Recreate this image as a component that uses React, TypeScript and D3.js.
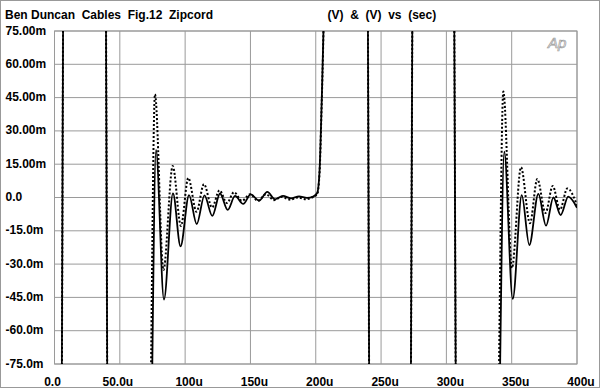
import React from "react";
import * as d3 from "d3";

// sweep times (microseconds) and levels (millivolts)
// +/-150 mV = trace is off-scale (clipped)
const solidTime = [
  0, 4.9, 7.3, 38.7, 41.1, 72.5, 77.7, 83.8, 90.7, 96.5, 103, 108.9, 114.8,
  120.8, 126.7, 132.6, 138.2, 144.5, 150.2, 156.6, 162.9, 168.8, 174.9, 181,
  187.2, 193.3, 198, 201.1, 202.9, 204.4, 205.9, 207.8, 239.2, 241.6, 272,
  274.8, 305.2, 308, 338.5, 344.3, 350.8, 357.7, 363.5, 370.4, 376.3, 381.9,
  387.5, 393.3, 400,
];
const solidLevel = [
  -150, -150, 150, 150, -150, -150, 21.4, -46, 1.9, -22, 1.1, -12, 1, -8.3,
  1.8, -5.6, 0.7, -2.9, 1.4, -1.4, 2.5, -0.8, 0.7, -0.4, 0.5, -0.2, 0.4, 2,
  12, 40, 75, 150, 150, -150, -150, 150, 150, -150, -150, 20.6, -45.7, 1.1,
  -21.4, 1.6, -12.7, 0, -7.9, 0.4, -4.6,
];

const dottedTime = [
  0, 4.9, 7.3, 38.7, 41.1, 71.8, 76.9, 83.4, 90.5, 96.8, 102.4, 108.7, 114.4,
  120.6, 126.3, 132, 137.4, 143.5, 149.7, 155.8, 161.9, 168, 174.2, 180.3,
  186.4, 192.5, 197.1, 201.1, 202.9, 204.4, 205.9, 207.8, 239.2, 241.6, 272,
  274.8, 305.2, 308, 338, 343.6, 350.2, 357.1, 364, 369.6, 375.9, 381.4, 387,
  392.6, 400,
];
const dottedLevel = [
  -150, -150, 150, 150, -150, -150, 46.5, -32.7, 14.2, -12.8, 8.8, -6.4, 6,
  -4.5, 3.2, -2.5, 2.4, -1.5, 1.5, -1.5, 1.5, -1.2, 0.3, -1, 0, -0.8, 0, 1.5,
  11, 39, 75, 150, 150, -150, -150, 150, 150, -150, -150, 47.7, -31.8, 13.6,
  -11.6, 8.3, -7, 5.2, -5.5, 4.1, -3.5,
];

const xTicks = [0, 50, 100, 150, 200, 250, 300, 350, 400];
const xTickLabels = ["0.0", "50.0u", "100u", "150u", "200u", "250u", "300u", "350u", "400u"];
const yTicks = [75, 60, 45, 30, 15, 0, -15, -30, -45, -60, -75];
const yTickLabels = [
  "75.00m", "60.00m", "45.00m", "30.00m", "15.00m", "0.0",
  "-15.0m", "-30.0m", "-45.0m", "-60.0m", "-75.0m",
];

const title = "Ben Duncan  Cables  Fig.12  Zipcord";
const units = "(V)  &  (V)  vs  (sec)";

export default function App() {
  const width = 600;
  const height = 388;
  const left = 54.5, right = 577, top = 31, bottom = 364;

  const x = d3.scaleLinear().domain([0, 400]).range([left, right]);
  const y = d3.scaleLinear().domain([-75, 75]).range([bottom, top]);

  const line = d3
    .line<[number, number]>()
    .x((d) => x(d[0]))
    .y((d) => y(d[1]))
    .curve(d3.curveMonotoneX);

  const solidPath = line(solidTime.map((t, i) => [t, solidLevel[i]]));
  const dottedPath = line(dottedTime.map((t, i) => [t, dottedLevel[i]]));

  const font = "'Liberation Sans', Arial, Helvetica, sans-serif";
  const grid = "#9a9a9a";

  return (
    <svg
      width={width}
      height={height}
      style={{ position: "absolute", left: 0, top: 0, background: "#fff" }}
      fontFamily={font}
    >
      <rect x={0.5} y={0.5} width={width - 1} height={height - 1} fill="#fff" stroke="#999" />
      <defs>
        <clipPath id="plot">
          <rect x={left} y={top} width={right - left} height={bottom - top} />
        </clipPath>
      </defs>

      {/* grid */}
      {xTicks.map((t) => (
        <line key={"gx" + t} x1={x(t)} x2={x(t)} y1={top} y2={bottom} stroke={grid} strokeWidth={1} />
      ))}
      {yTicks.map((v) => (
        <line key={"gy" + v} x1={left} x2={right} y1={y(v)} y2={y(v)} stroke={grid} strokeWidth={1} />
      ))}
      <rect x={left} y={top} width={right - left} height={bottom - top} fill="none" stroke={grid} />

      <text x={548} y={48} fontSize={15} fontStyle="italic" fill="#fff" stroke="#999" strokeWidth={0.7}>
        Ap
      </text>

      <g clipPath="url(#plot)" fill="none">
        <path d={solidPath ?? ""} stroke="#000" strokeWidth={1.8} />
        <path d={dottedPath ?? ""} stroke="#000" strokeWidth={2} strokeDasharray="2,2" />
      </g>

      {/* labels */}
      <g fontWeight="bold" fontSize={12} fill="#000">
        <text x={5} y={19} xmlSpace="preserve">{title}</text>
        <text x={327.5} y={19} xmlSpace="preserve">{units}</text>
        {yTicks.map((v, i) => (
          <text key={"yl" + v} x={5.5} y={y(v) + 3.5}>
            {yTickLabels[i]}
          </text>
        ))}
        {xTicks.map((t, i) => (
          <text
            key={"xl" + t}
            x={x(t)}
            y={385.5}
            textAnchor="middle"
            dx={xTickLabels[i].length === 4 ? 4 : -2}
          >
            {xTickLabels[i]}
          </text>
        ))}
      </g>
    </svg>
  );
}
